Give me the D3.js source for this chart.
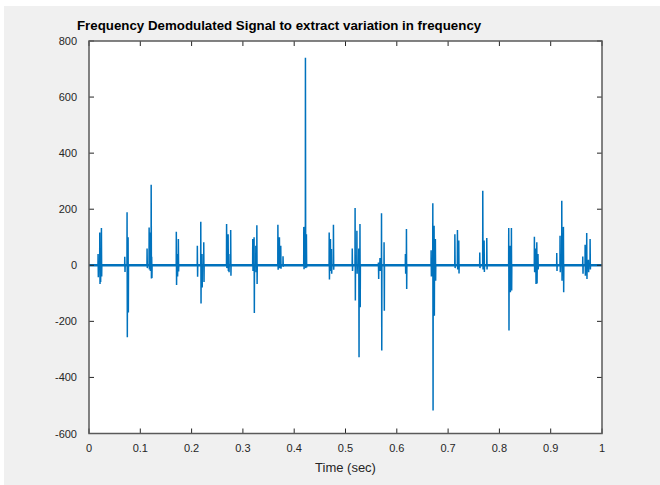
<!DOCTYPE html>
<html><head><meta charset="utf-8">
<script src="https://cdn.jsdelivr.net/npm/d3@7"></script>
<style>
html,body{margin:0;padding:0;background:#fff;}
text{font-family:"Liberation Sans",Arial,sans-serif;}
</style></head>
<body>
<svg id="c" width="660" height="485"></svg>
<script>
// ---- data ----
const titleText = "Frequency Demodulated Signal to extract variation in frequency";
const xLabel = "Time (sec)";
const xTicks = [0,0.1,0.2,0.3,0.4,0.5,0.6,0.7,0.8,0.9,1];
const yTicks = [-600,-400,-200,0,200,400,600,800];
// spike times (s), positive peak and negative trough of each spike
const spikeT = [
 0.0175,0.0208,0.022,0.024,
 0.0695,0.074,0.076,
 0.113,0.117,0.119,0.121,0.122,
 0.170,0.172,0.174,
 0.211,0.2177,0.220,0.2235,
 0.268,0.271,0.2723,0.276,
 0.319,0.3216,0.325,0.327,
 0.368,0.371,0.3736,0.378,
 0.4185,0.4217,0.4236,
 0.468,0.4704,0.4724,0.4763,
 0.513,0.5185,0.522,0.5257,0.528,
 0.564,0.567,0.570,0.575,
 0.6166,0.6186,
 0.6667,0.670,0.6725,0.675,
 0.713,0.718,0.7206,
 0.7615,0.7674,0.770,0.7752,
 0.818,0.8207,0.8232,
 0.868,0.8707,0.8727,0.875,
 0.9116,0.918,0.9214,0.9246,
 0.9623,0.9669,0.970,0.9733,0.9766
];
const spikeUp = [
 40,117,60,133,
 30,189,100,
 60,135,117,287,30,
 120,40,94,
 70,155,40,82,
 147,111,40,126,
 94,100,70,143,
 145,100,70,32,
 137,740,111,
 117,94,58,145,
 60,204,123,60,147,
 10,26,186,82,
 40,129,
 54,221,141,94,
 111,126,88,
 46,266,88,97,
 133,70,133,
 102,60,82,40,
 44,105,230,137,
 31,73,115,20,94
];
const spikeDown = [
 -43,-67,-60,-40,
 -24,-257,-168,
 -10,-15,-20,-47,-45,
 -70,-40,-22,
 -41,-136,-79,-60,
 -10,-20,-25,-37,
 -20,-170,-25,-67,
 -16,-10,-12,-5,
 -14,-10,-8,
 -51,-20,-30,-16,
 -20,-126,-30,-328,-150,
 -49,-20,-304,-162,
 -30,-85,
 -40,-518,-180,-55,
 -10,-15,-29,
 -10,-15,-24,-15,
 -233,-96,-90,
 -25,-67,-65,-15,
 -20,-25,-55,-96,
 -30,-37,-49,-25,-15
];
const baseline = [{t:0,v:0},{t:1,v:0}];

// ---- layout ----
const svg = d3.select("#c");
const L=89, R=602, T=41, B=433.5;
svg.append("rect").attr("x",4).attr("y",6).attr("width",656).attr("height",479).attr("fill","#f0f0f0");
svg.append("rect").attr("x",L).attr("y",T).attr("width",R-L).attr("height",B-T).attr("fill","#fff");

const x = d3.scaleLinear().domain([0,1]).range([L,R]);
const y = d3.scaleLinear().domain([-600,800]).range([B,T]);

// build signal points
const pts = [{t:0,v:0}];
spikeT.forEach((t,i)=>{
  pts.push({t:t,v:0});
  pts.push({t:t+0.0002,v:spikeUp[i]});
  pts.push({t:t+0.0007,v:spikeDown[i]});
  pts.push({t:t+0.001,v:0});
});
pts.push({t:1,v:0});

svg.append("clipPath").attr("id","clip").append("rect")
  .attr("x",L).attr("y",T).attr("width",R-L).attr("height",B-T);
const g = svg.append("g").attr("clip-path","url(#clip)");
const line = d3.line().x(d=>x(d.t)).y(d=>y(d.v));
g.append("path").datum(baseline).attr("d",line).attr("fill","none")
  .attr("stroke","#0072BD").attr("stroke-width",2.6);
g.append("path").datum(pts).attr("d",line).attr("fill","none")
  .attr("stroke","#0072BD").attr("stroke-width",1.5).attr("stroke-linejoin","miter");

// axes
const axCol="#5a5a5a", txtCol="#262626", tl=5;
const ax = svg.append("g");
xTicks.forEach(v=>{
  ax.append("line").attr("x1",x(v)).attr("x2",x(v)).attr("y1",B).attr("y2",B-tl).attr("stroke",txtCol).attr("stroke-width",1);
  ax.append("line").attr("x1",x(v)).attr("x2",x(v)).attr("y1",T).attr("y2",T+tl).attr("stroke",txtCol).attr("stroke-width",1);
  ax.append("text").attr("x",x(v)).attr("y",B+18).attr("text-anchor","middle")
    .attr("font-size",11).attr("fill",txtCol).text(d3.format("")(v));
});
yTicks.forEach(v=>{
  ax.append("line").attr("x1",L).attr("x2",L+tl).attr("y1",y(v)).attr("y2",y(v)).attr("stroke",txtCol).attr("stroke-width",1);
  ax.append("line").attr("x1",R).attr("x2",R-tl).attr("y1",y(v)).attr("y2",y(v)).attr("stroke",txtCol).attr("stroke-width",1);
  ax.append("text").attr("x",L-12).attr("y",y(v)+4).attr("text-anchor","end")
    .attr("font-size",11).attr("fill",txtCol).text(v);
});
ax.append("rect").attr("x",L).attr("y",T).attr("width",R-L).attr("height",B-T)
  .attr("fill","none").attr("stroke",axCol).attr("stroke-width",1.5);

svg.append("text").attr("x",(L+R)/2).attr("y",B+38).attr("text-anchor","middle")
  .attr("font-size",13).attr("fill",txtCol).text(xLabel);
svg.append("text").attr("x",77).attr("y",30).attr("text-anchor","start")
  .attr("font-size",13.3).attr("font-weight","bold").attr("fill","#000").text(titleText);
</script>
</body></html>
